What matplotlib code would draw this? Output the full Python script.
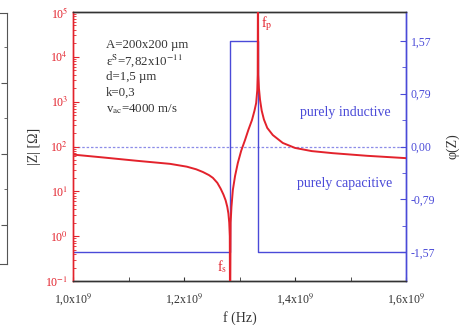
import numpy as np
import matplotlib
matplotlib.use("Agg")
import matplotlib.pyplot as plt
from matplotlib.ticker import FixedLocator, FuncFormatter, LogLocator, NullFormatter

plt.rcParams['font.family'] = ['Liberation Serif', 'DejaVu Serif']
plt.rcParams['mathtext.fontset'] = 'stix'

# |Z| (f in GHz, |Z| in ohm)
freq_ghz = [1.000, 1.054, 1.115, 1.175, 1.205, 1.222, 1.234, 1.245, 1.252, 1.260,
            1.266, 1.271, 1.275, 1.278, 1.280, 1.2815, 1.2825, 1.283, 1.284, 1.2855,
            1.288, 1.292, 1.297, 1.303, 1.310, 1.316, 1.3225, 1.327, 1.330, 1.332,
            1.3328, 1.3333, 1.3338, 1.335, 1.337, 1.340, 1.344, 1.350, 1.360, 1.378,
            1.400, 1.430, 1.468, 1.530, 1.600]
zmag = [66, 57, 48, 41, 35.5, 31, 27, 23, 20, 15.5,
        11.5, 8.5, 6.3, 4.5, 3.2, 2.0, 1.0, 0.01, 2.0, 4.5,
        10.7, 22, 43, 80, 140, 235, 390, 630, 930, 1800,
        4000, 1e6, 4000, 2000, 1100, 630, 400, 260, 180, 120,
        93, 79, 71, 62, 55]

# phase of Z: -pi/2 below fs, +pi/2 between fs and fp, -pi/2 above fp
phase_f_ghz = [1.000, 1.283, 1.283, 1.3333, 1.3333, 1.600]
phase = [-1.5708, -1.5708, 1.5708, 1.5708, -1.5708, -1.5708]

fs_ghz = 1.283
fp_ghz = 1.3333

param_lines = ["A=200x200 µm",
               r"ε$^{\mathrm{S}}$=7,82x10$^{\mathrm{-11}}$",
               "d=1,5 µm",
               "k=0,3",
               r"v$_{\mathrm{ac}}$=4000 m/s"]

xticks_ghz = [1.0, 1.2, 1.4, 1.6]
phase_ticks = [-1.5708, -0.7854, 0.0, 0.7854, 1.5708]
phase_labels = ["-1,57", "-0,79", "0,00", "0,79", "1,57"]

red = '#e3222c'
blue = '#4a4ad8'
gray = '#333333'

freq = np.array(freq_ghz) * 1e9
phase_f = np.array(phase_f_ghz) * 1e9

fig = plt.figure(figsize=(4.67, 3.25), dpi=100)
ax = fig.add_axes([73/467, 44/325, 333/467, 269/325])
ax2 = ax.twinx()

# phase on the right axis
ax2.plot(phase_f, phase, color=blue, lw=1.0, zorder=1)
ax2.axhline(0, color='#8c8ce8', lw=0.9, ls=(0, (2, 1.5)), zorder=0)
ax2.set_ylim(-2.0, 2.0)
ax2.yaxis.set_major_locator(FixedLocator(phase_ticks))
ax2.set_yticklabels(phase_labels)
ax2.yaxis.set_minor_locator(FixedLocator([-1.1781, -0.3927, 0.3927, 1.1781]))
ax2.tick_params(axis='y', which='both', direction='in', colors=blue, labelsize=8.5, length=4)
ax2.tick_params(axis='y', which='minor', length=3)
ax2.set_ylabel("φ(Z)", color=gray, fontsize=10, labelpad=8)

# |Z| on the left axis (drawn above the phase)
ax.set_zorder(ax2.get_zorder() + 1)
ax.patch.set_visible(False)
ax.plot(freq, zmag, color=red, lw=1.4, zorder=3)
ax.set_yscale('log')
ax.set_ylim(1e-1, 1e5)
ax.set_xlim(1.0e9, 1.6e9)
ax.yaxis.set_major_locator(LogLocator(base=10, numticks=10))
ax.yaxis.set_minor_locator(LogLocator(base=10, subs=np.arange(2, 10), numticks=20))
ax.yaxis.set_minor_formatter(NullFormatter())
ax.yaxis.set_major_formatter(FuncFormatter(lambda v, p: r"10$^{\mathrm{%d}}$" % round(np.log10(v))))
ax.tick_params(axis='y', which='both', direction='in', colors=red, labelsize=8.5)
ax.tick_params(axis='y', which='major', length=4)
ax.tick_params(axis='y', which='minor', length=2)
ax.set_ylabel("|Z| [Ω]", color=gray, fontsize=10, labelpad=3)

ax.xaxis.set_major_locator(FixedLocator([v * 1e9 for v in xticks_ghz]))
ax.xaxis.set_minor_locator(FixedLocator([1.1e9, 1.3e9, 1.5e9]))
ax.xaxis.set_major_formatter(FuncFormatter(lambda v, p: ("%.1f" % (v / 1e9)).replace(".", ",") + r"x10$^{\mathrm{9}}$"))
ax.tick_params(axis='x', which='both', direction='in', colors=gray, labelsize=8.5, length=3, pad=7, top=False)
ax.set_xlabel("f (Hz)", color=gray, fontsize=10, labelpad=3)

ax.spines['left'].set_color(red)
ax.spines['right'].set_color(blue)
ax2.spines['left'].set_color(red)
ax2.spines['right'].set_color(blue)
for a in (ax, ax2):
    a.spines['top'].set_color(gray)
    a.spines['bottom'].set_color(gray)
    for s in a.spines.values():
        s.set_linewidth(1.0)

# annotations
ax.text(fs_ghz * 1e9 - 0.006e9, 0.21, r"f$_{\mathrm{s}}$", color=red, fontsize=10, ha='right', va='center')
ax.text(fp_ghz * 1e9 + 0.005e9, 5.5e4, r"f$_{\mathrm{p}}$", color=red, fontsize=10, ha='left', va='center')
y0 = 0.877
for i, line in enumerate(param_lines):
    ax.text(0.099, y0 - i * 0.0595, line, transform=ax.transAxes, color=gray, fontsize=9.3, va='center', ha='left')
ax.text(0.817, 0.625, "purely inductive", transform=ax.transAxes, color=blue, fontsize=10, ha='center', va='center')
ax.text(0.817, 0.364, "purely capacitive", transform=ax.transAxes, color=blue, fontsize=10, ha='center', va='center')

# edge of the neighbouring chart, cut off at the left border
side = fig.add_axes([-23/467, 61/325, 30/467, 251/325])
side.set_xlim(0, 1)
side.set_ylim(0, 251)
side.xaxis.set_visible(False)
side.spines['left'].set_visible(False)
for s in ('right', 'top', 'bottom'):
    side.spines[s].set_color('#555555')
side.yaxis.tick_right()
side.yaxis.set_major_locator(FixedLocator([39, 110, 181]))
side.yaxis.set_minor_locator(FixedLocator([75, 146, 217]))
side.tick_params(axis='y', which='both', direction='in', colors='#555555', labelright=False, labelleft=False)
side.tick_params(axis='y', which='major', length=4)
side.tick_params(axis='y', which='minor', length=2)
side.patch.set_visible(False)

fig.savefig("out.png", dpi=100)
